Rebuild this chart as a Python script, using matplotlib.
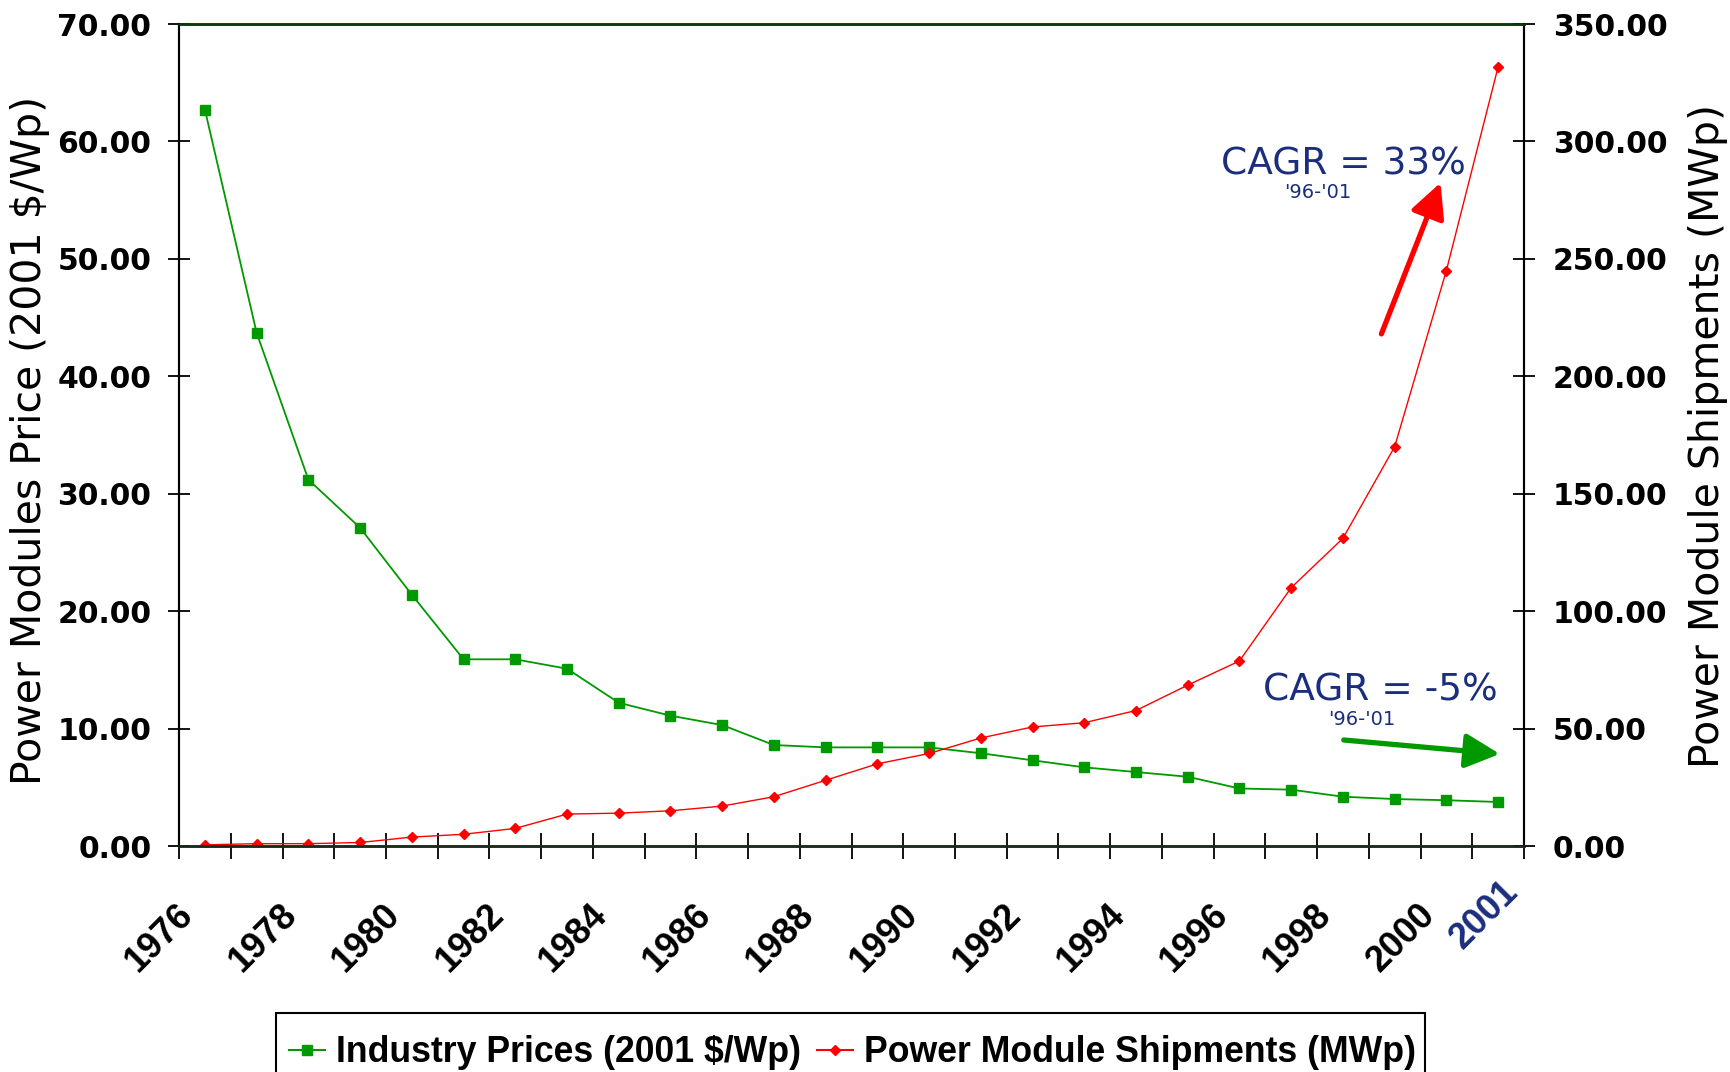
import numpy as np
import matplotlib
matplotlib.use("Agg")
import matplotlib.pyplot as plt
from matplotlib import font_manager
from matplotlib.lines import Line2D
from matplotlib.patches import Rectangle
from matplotlib.transforms import ScaledTranslation

# data
years = list(range(1976, 2002))
prices = [62.7, 43.7, 31.2, 27.1, 21.4, 15.9, 15.9, 15.1, 12.2, 11.1, 10.3, 8.6, 8.4,
          8.4, 8.4, 7.9, 7.3, 6.7, 6.3, 5.9, 4.9, 4.8, 4.2, 4.0, 3.9, 3.75]
shipments = [0.5, 1.0, 1.0, 1.5, 3.8, 5.0, 7.5, 13.6, 14.0, 15.0, 17.0, 21.0, 28.0,
             35.0, 39.4, 46.0, 50.7, 52.5, 57.7, 68.5, 78.8, 110.0, 131.0, 170.0, 245.0, 331.7]
label_years = list(range(1976, 2001, 2)) + [2001]
price_ticks = [0, 10, 20, 30, 40, 50, 60, 70]
ship_ticks = [0, 50, 100, 150, 200, 250, 300, 350]

GREEN = "#009900"
RED = "#FF0000"
NAVY = "#1B2E7D"

# legend font: Arial Narrow look-alike if present
try:
    font_manager.findfont("Liberation Sans Narrow", fallback_to_default=False)
    leg_family, leg_size = "Liberation Sans Narrow", 31
except ValueError:
    leg_family, leg_size = "Liberation Sans", 25.7

fig = plt.figure(figsize=(17.3, 10.72), dpi=100)
ax = fig.add_axes([0.1035, 0.2108, 0.7774, 0.7668])
ax2 = ax.twinx()

ax.plot(years, prices, color=GREEN, lw=1.3, marker="s", ms=7, mec=GREEN, mfc=GREEN)
ax2.plot(years, shipments, color=RED, lw=1.0, marker="D", ms=5.5, mec=RED, mfc=RED)

ax.set_xlim(1975.5, 2001.5)
ax.set_ylim(0, 70)
ax2.set_ylim(0, 350)

# y axes
ax.set_yticks(price_ticks)
ax.set_yticklabels([f"{v:.2f}" for v in price_ticks])
ax2.set_yticks(ship_ticks)
ax2.set_yticklabels([f"{v:.2f}" for v in ship_ticks])
ax.tick_params(axis="y", direction="inout", length=16, width=1.3, pad=12,
               labelsize=21.5)
ax2.tick_params(axis="y", direction="inout", length=16, width=1.3, pad=13,
                labelsize=21.5)
for lab in ax.get_yticklabels() + ax2.get_yticklabels():
    lab.set_fontweight("bold")
    lab.set_family("DejaVu Sans")

# x axis: ticks between categories, labels at categories
ax.set_xticks(np.arange(1975.5, 2002, 1.0))
ax.tick_params(axis="x", which="major", direction="inout", length=19, width=1.3,
               labelbottom=False)
ax.set_xticks(label_years, labels=[str(y) for y in label_years], minor=True)
ax.tick_params(axis="x", which="minor", length=0, pad=36.5, labelsize=26)
shift = ScaledTranslation(-0.29, 0, fig.dpi_scale_trans)
last_shift = ScaledTranslation(0.02, 0.23, fig.dpi_scale_trans)
xlabels = ax.get_xticklabels(minor=True)
for i, lab in enumerate(xlabels):
    lab.set_rotation(45)
    lab.set_ha("right")
    lab.set_va("top")
    lab.set_rotation_mode("anchor")
    lab.set_fontweight("bold")
    lab.set_family("Liberation Sans")
    if i == len(xlabels) - 1:
        lab.set_color(NAVY)
        lab.set_transform(lab.get_transform() + last_shift)
    else:
        lab.set_transform(lab.get_transform() + shift)

# spines
for a in (ax, ax2):
    a.spines["left"].set_linewidth(1.5)
    a.spines["right"].set_linewidth(1.5)
    a.spines["top"].set_linewidth(1.8)
    a.spines["top"].set_color("#0B3B0B")
    a.spines["bottom"].set_linewidth(1.8)
    a.spines["bottom"].set_color("#1A2A1A")

# axis titles
ax.set_ylabel("Power Modules Price (2001 $/Wp)", fontsize=29.5, family="DejaVu Sans")
ax.yaxis.set_label_coords(-0.096, 0.493)
ax2.set_ylabel("Power Module Shipments (MWp)", fontsize=29.5, family="DejaVu Sans")
ax2.yaxis.set_label_coords(1.122, 0.499)

# CAGR annotations
ax.text(0.866, 0.8165, "CAGR = 33%", transform=ax.transAxes, ha="center",
        va="baseline", fontsize=27, color=NAVY, family="DejaVu Sans")
ax.text(0.847, 0.7886, "'96-'01", transform=ax.transAxes, ha="center",
        va="baseline", fontsize=14, color=NAVY, family="DejaVu Sans")
ax.text(0.893, 0.1774, "CAGR = -5%", transform=ax.transAxes, ha="center",
        va="baseline", fontsize=27, color=NAVY, family="DejaVu Sans")
ax.text(0.8796, 0.147, "'96-'01", transform=ax.transAxes, ha="center",
        va="baseline", fontsize=14, color=NAVY, family="DejaVu Sans")

ax2.annotate("", xy=(0.938, 0.807), xytext=(0.894, 0.623), xycoords="axes fraction",
             textcoords="axes fraction",
             arrowprops=dict(arrowstyle="-|>,head_length=2.1,head_width=1.05",
                             mutation_scale=10, lw=3.8, color=RED,
                             shrinkA=0, shrinkB=0))
ax2.annotate("", xy=(0.982, 0.112), xytext=(0.866, 0.129), xycoords="axes fraction",
             textcoords="axes fraction",
             arrowprops=dict(arrowstyle="-|>,head_length=2.1,head_width=1.05",
                             mutation_scale=10, lw=3.8, color=GREEN,
                             shrinkA=0, shrinkB=0))

# legend at the bottom; its box runs off the bottom edge like the original
handles = [
    Line2D([], [], color=GREEN, lw=1.5, marker="s", ms=7, mfc=GREEN, mec=GREEN),
    Line2D([], [], color=RED, lw=1.5, marker="D", ms=5.5, mfc=RED, mec=RED),
]
fig.legend(handles, ["Industry Prices (2001 $/Wp)", "Power Module Shipments (MWp)"],
           loc="upper left", bbox_to_anchor=(0.167, 0.0345), ncol=2,
           prop={"family": leg_family, "weight": "bold", "size": leg_size},
           frameon=False, borderaxespad=0, borderpad=0, handlelength=1.0,
           handletextpad=0.31, columnspacing=0.46)
fig.add_artist(Rectangle((276 / 1730, -0.05), (1425 - 276) / 1730, 0.05 + 59 / 1072,
                         transform=fig.transFigure, fill=False, ec="black", lw=1.5))

fig.savefig("out.png", dpi=100)
